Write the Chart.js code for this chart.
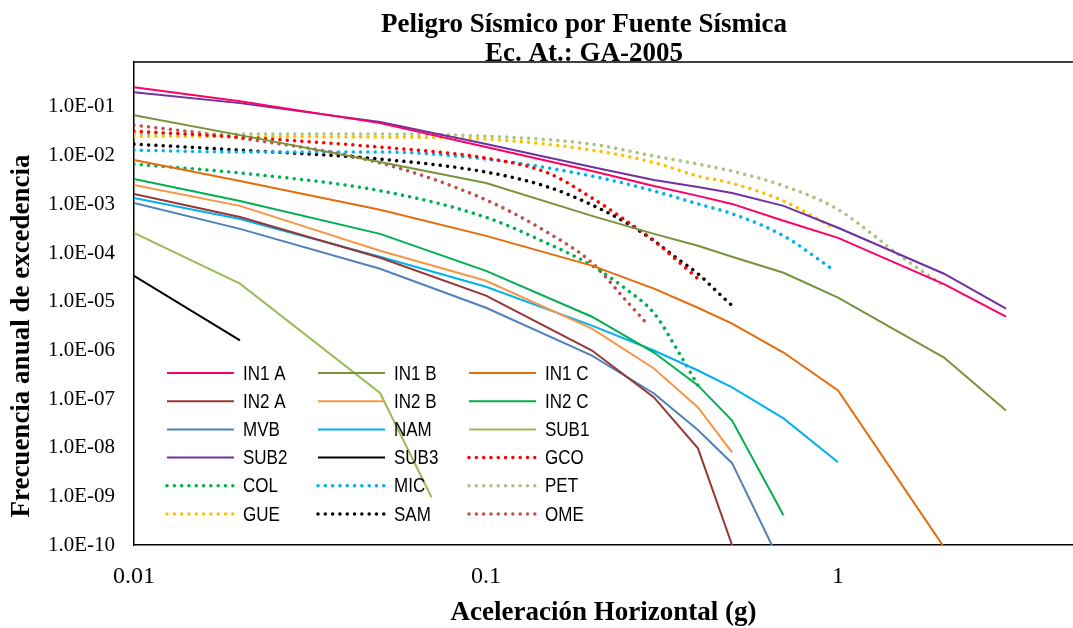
<!DOCTYPE html>
<html>
<head>
<meta charset="utf-8">
<title>Peligro Sísmico por Fuente Sísmica</title>
<script src="https://cdn.jsdelivr.net/npm/chart.js@4.4.1/dist/chart.umd.min.js"></script>
<style>
  html, body { margin: 0; padding: 0; background: #fff; }
  #grafico { display: block; }
</style>
</head>
<body>
<canvas id="grafico" width="1073" height="628"></canvas>
<script>
// Aceleraciones (g) usadas por las fuentes de linea continua
const xFuentes = [0.01, 0.02, 0.05, 0.1, 0.2, 0.3, 0.4, 0.5, 0.7, 1, 2, 3];

// Frecuencias anuales de excedencia (lineas continuas)
const yIN1A = [0.255, 0.131, 0.0466, 0.015, 0.00483, 0.00238, 0.00149, 0.00102, 4.6e-4, 2.05e-4, 2.3e-5, 4.9e-6];
const yIN1B = [0.068, 0.0264, 0.0074, 0.00275, 5.8e-4, 2.47e-4, 1.41e-4, 8.35e-5, 3.93e-5, 1.21e-5, 7.1e-7, 5.8e-8];
const yIN1C = [0.00813, 0.00302, 7.7e-4, 2.25e-4, 5.5e-5, 1.85e-5, 7.5e-6, 3.54e-6, 9.0e-7, 1.5e-7, 9e-11];
const yIN2A = [0.00163, 5.5e-4, 8.0e-5, 1.33e-5, 9.9e-7, 1.08e-7, 9.7e-9, 1e-10];
const yIN2B = [0.0025, 9.3e-4, 1.11e-4, 2.69e-5, 2.8e-6, 4.24e-7, 6.7e-8, 8.0e-9];
const yIN2C = [0.00331, 0.00117, 2.47e-4, 4.3e-5, 4.9e-6, 9.0e-7, 1.9e-7, 3.6e-8, 4.1e-10];
const yMVB = [0.00107, 3.13e-4, 4.74e-5, 7.5e-6, 7.8e-7, 1.3e-7, 2.3e-8, 4.8e-9, 3.2e-11];
const yNAM = [0.00135, 5.0e-4, 8.35e-5, 2.03e-5, 3.22e-6, 9.9e-7, 3.85e-7, 1.73e-7, 4.0e-8, 5.0e-9];
const xSUB1 = [0.01, 0.02, 0.05, 0.07];
const ySUB1 = [2.6e-4, 2.34e-5, 1.33e-7, 9.6e-10];
const ySUB2 = [0.201, 0.12, 0.0489, 0.0173, 0.00584, 0.00316, 0.00227, 0.00171, 9.3e-4, 3.3e-4, 3.75e-5, 7.2e-6];
const xSUB3 = [0.01, 0.02];
const ySUB3 = [3.4e-5, 1.6e-6];

// Fuentes de linea punteada
const xGCO = [0.01, 0.02, 0.05, 0.1, 0.15, 0.2, 0.25, 0.3, 0.35, 0.4];
const yGCO = [0.0319, 0.024, 0.015, 0.0089, 0.0044, 0.00135, 4.6e-4, 1.78e-4, 6.9e-5, 2.96e-5];
const xCOL = [0.01, 0.02, 0.05, 0.1, 0.15, 0.2, 0.25, 0.3, 0.35, 0.4];
const yCOL = [0.0067, 0.0044, 0.0019, 5.4e-4, 1.55e-4, 5.5e-5, 1.8e-5, 5.8e-6, 1.0e-6, 1.9e-7];
const xMIC = [0.01, 0.02, 0.05, 0.1, 0.2, 0.3, 0.4, 0.5, 0.7, 0.97];
const yMIC = [0.013, 0.0119, 0.0119, 0.0085, 0.0038, 0.00188, 0.00102, 6.4e-4, 2.25e-4, 4.5e-5];
const xPET = [0.01, 0.02, 0.05, 0.1, 0.2, 0.3, 0.4, 0.5, 0.7, 1, 1.5, 2];
const yPET = [0.0277, 0.0277, 0.0277, 0.0252, 0.0172, 0.0098, 0.0067, 0.0048, 0.0024, 7.8e-4, 8.8e-5, 2.1e-5];
const xGUE = [0.01, 0.02, 0.05, 0.1, 0.2, 0.3, 0.4, 0.5, 0.7, 0.97];
const yGUE = [0.0252, 0.0245, 0.024, 0.0219, 0.013, 0.0072, 0.0038, 0.0027, 0.00117, 3.3e-4];
const xSAM = [0.01, 0.02, 0.05, 0.1, 0.15, 0.2, 0.25, 0.3, 0.35, 0.4, 0.45, 0.5];
const ySAM = [0.0173, 0.013, 0.0085, 0.0046, 0.00227, 9.7e-4, 4.2e-4, 1.78e-4, 7.6e-5, 3.75e-5, 1.68e-5, 8.3e-6];
const xOME = [0.01, 0.02, 0.05, 0.1, 0.15, 0.2, 0.25, 0.29];
const yOME = [0.0424, 0.023, 0.0071, 0.00123, 2.6e-4, 6.3e-5, 1.05e-5, 3.2e-6];

// Etiquetas de los ejes
const xTicks = [0.01, 0.1, 1];
const yTicks = [1e-10, 1e-9, 1e-8, 1e-7, 1e-6, 1e-5, 1e-4, 1e-3, 1e-2, 1e-1];

const titulo = ['Peligro Sísmico por Fuente Sísmica', 'Ec. At.: GA-2005'];
const serif = '"Liberation Serif", "Times New Roman", serif';

function puntos(xs, ys) {
    return ys.map((y, i) => ({ x: xs[i], y: y }));
}

function continua(label, xs, ys, color) {
    return {
        label: label,
        data: puntos(xs, ys),
        borderColor: color,
        backgroundColor: color,
        borderWidth: 2,
        pointRadius: 0,
        fill: false
    };
}

function punteada(label, xs, ys, color) {
    return {
        label: label,
        data: puntos(xs, ys),
        borderColor: color,
        backgroundColor: color,
        borderWidth: 3.5,
        borderDash: [0.01, 7.3],
        borderCapStyle: 'round',
        cubicInterpolationMode: 'monotone',
        pointRadius: 0,
        fill: false
    };
}

const datasets = [
    continua('IN1 A', xFuentes, yIN1A, '#FF0066'),
    continua('IN1 B', xFuentes, yIN1B, '#77933C'),
    continua('IN1 C', xFuentes, yIN1C, '#E46C0A'),
    continua('IN2 A', xFuentes, yIN2A, '#953735'),
    continua('IN2 B', xFuentes, yIN2B, '#F79646'),
    continua('IN2 C', xFuentes, yIN2C, '#00B050'),
    continua('MVB', xFuentes, yMVB, '#4F81BD'),
    continua('NAM', xFuentes, yNAM, '#00B0F0'),
    continua('SUB1', xSUB1, ySUB1, '#9BBB59'),
    continua('SUB2', xFuentes, ySUB2, '#7030A0'),
    continua('SUB3', xSUB3, ySUB3, '#000000'),
    punteada('GCO', xGCO, yGCO, '#FF0000'),
    punteada('COL', xCOL, yCOL, '#00B050'),
    punteada('MIC', xMIC, yMIC, '#00B0F0'),
    punteada('PET', xPET, yPET, '#A9C47F'),
    punteada('GUE', xGUE, yGUE, '#FFC000'),
    punteada('SAM', xSAM, ySAM, '#000000'),
    punteada('OME', xOME, yOME, '#C0504D')
];

// Leyenda de tres columnas dentro del area de trazado
const leyendaInterna = {
    id: 'leyendaInterna',
    afterDatasetsDraw(chart) {
        const ctx = chart.ctx;
        chart.data.datasets.forEach((ds, i) => {
            const col = i % 3;
            const fila = Math.floor(i / 3);
            const x0 = 167 + col * 151;
            const y = 373 + fila * 28.2;
            ctx.save();
            ctx.strokeStyle = ds.borderColor;
            ctx.lineWidth = ds.borderWidth;
            ctx.lineCap = ds.borderCapStyle || 'butt';
            ctx.setLineDash(ds.borderDash || []);
            ctx.beginPath();
            ctx.moveTo(x0, y);
            ctx.lineTo(x0 + 67, y);
            ctx.stroke();
            ctx.setLineDash([]);
            ctx.fillStyle = '#000';
            ctx.font = '20px "Liberation Sans", Arial, sans-serif';
            ctx.textBaseline = 'middle';
            ctx.translate(x0 + 76, y + 1);
            ctx.scale(0.85, 1);
            ctx.fillText(ds.label, 0, 0);
            ctx.restore();
        });
    }
};

// Borde superior, titulo general y titulo del eje Y
const marcoTitulos = {
    id: 'marcoTitulos',
    afterDraw(chart) {
        const ctx = chart.ctx;
        const a = chart.chartArea;
        ctx.save();
        ctx.strokeStyle = '#000';
        ctx.lineWidth = 1.5;
        ctx.beginPath();
        ctx.moveTo(a.left, a.top);
        ctx.lineTo(a.right, a.top);
        ctx.stroke();

        ctx.fillStyle = '#000';
        ctx.textAlign = 'center';
        ctx.textBaseline = 'alphabetic';
        ctx.font = 'bold 27px ' + serif;
        ctx.fillText(titulo[0], 584, 32);
        ctx.fillText(titulo[1], 584, 61);

        ctx.translate(22, 336);
        ctx.rotate(-Math.PI / 2);
        ctx.textBaseline = 'middle';
        ctx.fillText('Frecuencia anual de excedencia', 0, 0);
        ctx.restore();
    }
};

function formatoExp(v) {
    const e = Math.round(Math.log10(v));
    const s = e < 0 ? '-' : '+';
    return '1.0E' + s + String(Math.abs(e)).padStart(2, '0');
}

const ctx = document.getElementById('grafico').getContext('2d');
const chartPeligro = new Chart(ctx, {
    type: 'line',
    data: { datasets: datasets },
    options: {
        responsive: false,
        animation: false,
        layout: { padding: { top: 62, left: 0, right: 0, bottom: 0 } },
        plugins: {
            legend: { display: false },
            tooltip: { enabled: false },
            title: { display: false }
        },
        scales: {
            x: {
                type: 'logarithmic',
                min: 0.01,
                max: 4.65,
                afterBuildTicks: s => { s.ticks = xTicks.map(v => ({ value: v })); },
                afterFit: s => { s.height = 83; },
                grid: { display: false, drawTicks: false },
                border: { display: true, color: '#000', width: 1.5 },
                ticks: {
                    color: '#000',
                    font: { family: serif, size: 24 },
                    padding: 17,
                    maxRotation: 0,
                    autoSkip: false,
                    callback: v => String(v)
                },
                title: {
                    display: true,
                    text: 'Aceleración Horizontal (g)',
                    color: '#000',
                    font: { family: serif, size: 27, weight: 'bold', lineHeight: 1 },
                    padding: { top: 0, bottom: 1 }
                }
            },
            y: {
                type: 'logarithmic',
                min: 1e-10,
                max: 0.84,
                afterBuildTicks: s => { s.ticks = yTicks.map(v => ({ value: v })); },
                afterFit: s => { s.width = 134; },
                grid: { display: false, drawTicks: false },
                border: { display: true, color: '#000', width: 1.5 },
                ticks: {
                    color: '#000',
                    font: { family: serif, size: 21 },
                    padding: 19,
                    autoSkip: false,
                    callback: v => formatoExp(v)
                }
            }
        }
    },
    plugins: [leyendaInterna, marcoTitulos]
});
</script>
</body>
</html>
